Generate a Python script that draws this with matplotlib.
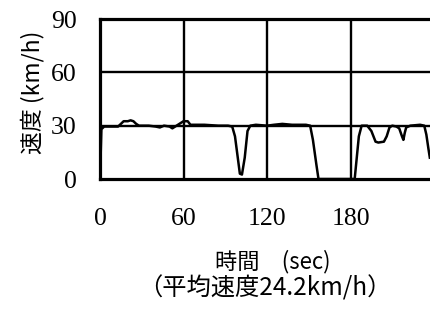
import matplotlib
matplotlib.use("Agg")
import matplotlib.pyplot as plt

# Data
time_s = [0, 1, 3, 8, 13, 15, 17, 20, 22, 24, 26, 28, 35, 40, 43, 46, 50, 52, 54,
          57, 60, 63, 65, 75, 85, 92, 95, 97, 99, 100.5, 102, 104, 106, 108, 112,
          120, 125, 131, 138, 148, 151, 153, 155.5, 157, 183, 184.5, 186, 188, 192,
          195, 198, 200, 204, 206, 208, 210, 213, 215, 217, 218, 219, 220, 223,
          230, 233, 234.5, 236, 237]
speed = [0, 28, 29.5, 29.5, 29.5, 31, 32.5, 32.5, 33, 32.5, 31, 30, 30, 29.5, 29,
         30, 29.5, 28.5, 29.5, 31, 32.5, 32.5, 30.5, 30.5, 30, 30, 29.5, 24, 12, 3,
         2.5, 12, 27, 30, 30.5, 30, 30.5, 31, 30.5, 30.5, 30, 22, 8, 0, 0, 12, 24,
         30, 30, 27, 21, 20.5, 21, 24, 29, 30, 29.5, 28.5, 24, 22, 26, 29, 30,
         30.5, 30, 25, 17, 12]

x_ticks = [0, 60, 120, 180]
y_ticks = [0, 30, 60, 90]
y_label = "速度 (km/h)"
x_label = "時間\u3000(sec)"
note = "（平均速度24.2km/h）"

W, H = 430, 322
fig = plt.figure(figsize=(W / 100, H / 100), dpi=100)
left, top, bottom = 100, 19, 179
px_per_60 = 83.5
right = left + px_per_60 * 4
ax = fig.add_axes([left / W, 1 - bottom / H, (right - left) / W, (bottom - top) / H])
ax.set_xlim(0, 240)
ax.set_ylim(0, 90)

for v in [60, 120, 180]:
    ax.axvline(v, color="black", lw=1.7, zorder=1)
for h in [30, 60]:
    ax.axhline(h, color="black", lw=1.7, zorder=1)

ax.plot(time_s, speed, color="black", lw=1.8, zorder=3)

for s in ax.spines.values():
    s.set_linewidth(2.3)

ax.set_xticks(x_ticks)
ax.set_yticks(y_ticks)
ax.tick_params(length=0, labelsize=18.5)
ax.tick_params(axis="y", pad=17)
ax.tick_params(axis="x", pad=21)
for lab in ax.get_xticklabels() + ax.get_yticklabels():
    lab.set_fontfamily("Liberation Serif")

cjk = ["Noto Sans CJK JP", "DejaVu Sans"]
fig.text(32 / W, 1 - 92 / H, y_label, rotation=90, ha="center", va="center",
         fontsize=16.5, family=cjk)
fig.text(273 / W, 1 - 262 / H, x_label, ha="center", va="center",
         fontsize=16, family=cjk)
fig.text(265 / W, 1 - 288 / H, note, ha="center", va="center",
         fontsize=17.5, family=cjk)

fig.savefig("out.png", dpi=100)
